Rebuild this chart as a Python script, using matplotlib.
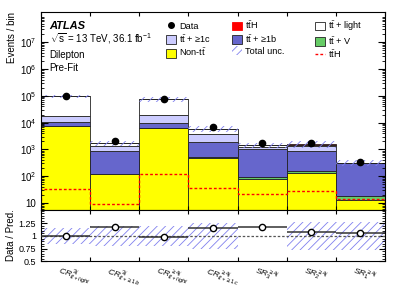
import matplotlib
matplotlib.use("Agg")
import matplotlib.pyplot as plt
import matplotlib.patches as mpatches
from matplotlib.lines import Line2D
from matplotlib.ticker import FixedLocator, FuncFormatter, LogLocator, NullFormatter
import numpy as np

# Fonts: Helvetica-like everywhere, mathtext too
plt.rcParams['font.family'] = ['Liberation Sans', 'DejaVu Sans']
plt.rcParams['mathtext.fontset'] = 'custom'
plt.rcParams['mathtext.rm'] = 'Liberation Sans'
plt.rcParams['mathtext.it'] = 'Liberation Sans:italic'
plt.rcParams['mathtext.bf'] = 'Liberation Sans:bold'
plt.rcParams['hatch.linewidth'] = 0.6

# Regions (bins)
regions = [r'$CR^{\,3j}_{t\bar{t}+light}$', r'$CR^{\,3j}_{t\bar{t}+\geq 1b}$',
           r'$CR^{\,\geq 4j}_{t\bar{t}+light}$', r'$CR^{\,\geq 4j}_{t\bar{t}+\geq 1c}$',
           r'$SR^{\geq 4j}_{3}$', r'$SR^{\geq 4j}_{2}$', r'$SR^{\geq 4j}_{1}$']

# Pre-fit yields per region (stack order bottom -> top)
non_tt   = [7400, 120, 6300, 490, 79, 129, 13]
tt_v     = [200, 5, 150, 20, 17, 26, 6]
tt_b     = [2900, 745, 3250, 1390, 900, 715, 285]
tt_c     = [7300, 470, 9300, 1850, 200, 480, 2]
tt_light = [77000, 390, 57000, 1950, 230, 170, 1]
tt_h     = [33, 9, 120, 36, 22, 29, 14.5]

data = [95000, 2040, 75000, 6600, 1710, 1670, 340]

# relative total uncertainty (main panel / ratio panel)
unc_main  = [0.16, 0.2, 0.2, 0.25, 0.2, 0.28, 0.28]
unc_ratio = [0.16, 0.2, 0.2, 0.25, 0.0, 0.28, 0.28]

tt = r'$\mathregular{t\bar{t}}$'
stack = [
    (non_tt,   '#ffff00', 'Non-' + tt),
    (tt_v,     '#66cc66', tt + ' + V'),
    (tt_b,     '#6666cc', tt + ' + \u22651b'),
    (tt_c,     '#ccccff', tt + ' + \u22651c'),
    (tt_light, '#ffffff', tt + ' + light'),
    (tt_h,     '#ff0000', tt + 'H'),
]

nb = len(regions)
edges = np.arange(nb + 1)
x = edges[:-1]
hatch_col = '#8080ee'

fig = plt.figure(figsize=(4.07, 2.92), dpi=100)
ax = fig.add_axes([0.1007, 0.281, 0.845, 0.678])
axr = fig.add_axes([0.1007, 0.106, 0.845, 0.175], sharex=ax)

ax.set_yscale('log')
bottom = np.zeros(nb)
for vals, col, lab in stack:
    v = np.array(vals, dtype=float)
    ax.bar(x, v, width=1, bottom=bottom, align='edge', color=col,
           edgecolor='#222222', linewidth=0.6)
    bottom = bottom + v
total = bottom

# total uncertainty band
um = np.array(unc_main)
ax.bar(x, 2 * um * total, width=1, bottom=total * (1 - um), align='edge',
       fill=False, hatch='////', edgecolor=hatch_col, linewidth=0)

# ttH overlay
ax.stairs(tt_h, edges, color='#ff0000', linestyle=(0, (2, 1.5)), linewidth=1.0)

# data
ax.plot(x + 0.5, data, 'o', color='black', markersize=4.5, zorder=5)

ax.set_xlim(0, nb)
ax.set_ylim(5.5, 1.35e8)
ax.yaxis.set_major_locator(FixedLocator([10.0 ** k for k in range(1, 8)]))
ax.yaxis.set_major_formatter(FuncFormatter(lambda v, p: '10' if v == 10 else r'$\mathregular{10^{%d}}$' % round(np.log10(v))))
ax.yaxis.set_minor_locator(LogLocator(base=10, subs=np.arange(2, 10), numticks=20))
ax.yaxis.set_minor_formatter(NullFormatter())
ax.set_ylabel('Events / bin', fontsize=7, loc='top', labelpad=2)
ax.set_xticks(edges)
ax.tick_params(axis='both', which='both', direction='in', top=True, right=True, labelsize=7)
ax.tick_params(axis='y', which='major', length=5)
ax.tick_params(axis='y', which='minor', length=2.5)
ax.tick_params(axis='x', which='major', length=3, labelbottom=False)

# text block
ax.text(0.025, 0.915, 'ATLAS', transform=ax.transAxes, fontsize=8, fontweight='bold', style='italic')
ax.text(0.025, 0.845, r'$\mathregular{\sqrt{s}}$ = 13 TeV, 36.1 fb$^{\mathregular{-1}}$', transform=ax.transAxes, fontsize=7)
ax.text(0.025, 0.77, 'Dilepton', transform=ax.transAxes, fontsize=7)
ax.text(0.025, 0.70, 'Pre-Fit', transform=ax.transAxes, fontsize=7)

# legend (first two columns, then third column separately)
ec = '#222222'
h = [
    Line2D([], [], marker='o', color='black', linestyle='none', markersize=4),
    mpatches.Patch(facecolor='#ccccff', edgecolor=ec, linewidth=0.6),
    mpatches.Patch(facecolor='#ffff00', edgecolor=ec, linewidth=0.6),
    mpatches.Patch(facecolor='#ff0000', edgecolor='#ff0000', linewidth=0.6),
    mpatches.Patch(facecolor='#6666cc', edgecolor=ec, linewidth=0.6),
    mpatches.Patch(facecolor='none', edgecolor=hatch_col, hatch='////', linewidth=0),
]
h3 = [
    mpatches.Patch(facecolor='#ffffff', edgecolor=ec, linewidth=0.6),
    mpatches.Patch(facecolor='#66cc66', edgecolor=ec, linewidth=0.6),
    Line2D([], [], color='#ff0000', linestyle=(0, (2, 1.5)), linewidth=1.0),
]
labels = ['Data', stack[3][2], stack[0][2], stack[5][2], stack[2][2], 'Total unc.']
labels3 = [stack[4][2], stack[1][2], stack[5][2]]
leg_kw = dict(loc='upper left', frameon=False, fontsize=6.6, handlelength=1.1,
              handleheight=1.1, handletextpad=0.3, labelspacing=0.2, borderpad=0.2)
leg1 = ax.legend(h, labels, ncol=2, bbox_to_anchor=(0.345, 0.995), columnspacing=2.3, **leg_kw)
ax.add_artist(leg1)
ax.legend(h3, labels3, ncol=1, bbox_to_anchor=(0.778, 0.995), **leg_kw)

# ratio panel
ratio = np.array(data) / total
ur = np.array(unc_ratio)
axr.bar(x, 2 * ur, width=1, bottom=1 - ur, align='edge', fill=False,
        hatch='////', edgecolor=hatch_col, linewidth=0)
axr.axhline(1.0, color='#555555', linestyle=(0, (2, 1.5)), linewidth=0.9)
axr.errorbar(x + 0.5, ratio, xerr=0.5, fmt='o', color='#333333', mfc='white', mec='black',
             markersize=4.5, elinewidth=1.1, capsize=0, zorder=5)
axr.set_ylim(0.5, 1.52)
axr.set_yticks([0.5, 0.75, 1.0, 1.25])
axr.set_yticklabels(['0.5', '0.75', '1', '1.25'])
axr.yaxis.set_minor_locator(FixedLocator(np.arange(0.5, 1.51, 0.05)))
axr.set_ylabel('Data / Pred.', fontsize=7, labelpad=2)
axr.set_xticks(edges)
axr.tick_params(axis='both', which='both', direction='in', top=True, right=True, labelsize=6.5)
axr.tick_params(axis='y', which='major', length=4)
axr.tick_params(axis='y', which='minor', length=2)
axr.tick_params(axis='x', which='major', length=3, labelbottom=False)

for i, lab in enumerate(regions):
    axr.text(i + 0.4, -0.06, lab, transform=axr.get_xaxis_transform(), rotation=-17,
             rotation_mode='anchor', ha='left', va='top', fontsize=6)

fig.savefig('out.png', dpi=100)
